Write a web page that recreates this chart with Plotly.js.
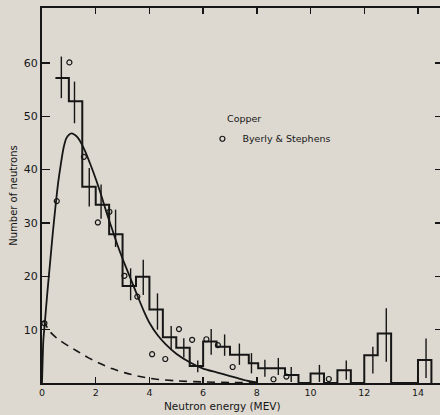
<!DOCTYPE html>
<html><head><meta charset="utf-8">
<script src="https://cdn.plot.ly/plotly-3.0.1.min.js"></script>
<style>html,body{margin:0;padding:0;background:#ddd9d0;}</style>
</head><body><div id="chart" style="width:440px;height:415px;"></div>
<script>
// Histogram (step outline): bin edges in MeV and counts per bin
const binEdges  = [0.5, 1.0, 1.5, 2.0, 2.5, 3.0, 3.5, 4.0, 4.5, 5.0, 5.5, 6.0, 6.5, 7.0, 7.7, 8.05, 9.05, 9.55, 10.0, 10.5, 11.0, 11.5, 12.0, 12.5, 13.0, 14.0, 14.5];
const binCounts = [57.2, 52.8, 36.8, 33.4, 27.9, 18.2, 19.9, 13.8, 8.6, 6.6, 3.2, 7.8, 6.8, 5.3, 3.7, 2.75, 1.5, 0, 1.8, 0, 2.4, 0, 5.2, 9.3, 0, 4.3];
// Error bars on the histogram
const errEnergy = [0.72, 1.21, 1.76, 2.2, 2.74, 3.3, 3.77, 4.3, 4.81, 5.28, 5.8, 6.3, 6.8, 7.35, 7.8, 8.3, 8.8, 9.28, 10.33, 11.33, 12.32, 12.82, 14.3];
const errCenter = [57.3, 52.6, 36.7, 34.0, 29.0, 18.5, 19.8, 13.4, 8.5, 6.6, 3.1, 7.7, 7.1, 5.4, 3.7, 2.75, 3.1, 1.6, 1.8, 2.4, 4.3, 9.0, 4.65];
const errHalf   = [3.9, 3.9, 3.6, 3.2, 3.5, 3.0, 3.3, 3.4, 2.2, 1.8, 1.1, 2.4, 2.0, 2.0, 1.9, 1.6, 1.6, 1.4, 1.6, 1.8, 2.5, 5.0, 3.7];
// Byerly & Stephens (open circles)
const byerlyEnergy = [0.09, 0.55, 1.02, 1.56, 2.08, 2.51, 3.07, 3.55, 4.1, 4.59, 5.1, 5.59, 6.12, 6.55, 7.1, 8.62, 9.1, 10.68];
const byerlyCounts = [11.2, 34.1, 60.1, 42.4, 30.1, 32.1, 20.1, 16.2, 5.4, 4.5, 10.1, 8.1, 8.2, 7.1, 3.0, 0.7, 1.2, 0.75];
// Solid curve
const fitEnergy = [0, 0.05, 0.1, 0.2, 0.3, 0.4, 0.5, 0.6, 0.7, 0.8, 0.9, 1.0, 1.1, 1.2, 1.3, 1.4, 1.6, 1.8, 2.0, 2.2, 2.4, 2.6, 2.8, 3.0, 3.2, 3.4, 3.6, 3.8, 4.0, 4.3, 4.6, 5.0, 5.5, 6.0, 6.5, 7.0, 7.5, 8.0];
const fitCounts = [0, 8, 11, 17, 22.5, 28, 33, 37.5, 41, 44, 45.8, 46.5, 46.8, 46.6, 46.2, 45.5, 43.5, 41, 38.3, 35.3, 32, 29, 26, 23.3, 20.8, 18.3, 15.8, 13.4, 11.3, 9.0, 7.3, 5.5, 3.9, 2.7, 2.0, 1.3, 0.6, 0.1];
// Dashed curve
const dashEnergy = [0.05, 0.3, 0.6, 1.0, 1.3, 1.7, 2.1, 2.6, 3.1, 3.6, 4.2, 5.0, 6.0, 7.0, 8.0];
const dashCounts = [11.7, 9.6, 8.2, 6.9, 6.0, 4.8, 3.8, 2.7, 1.9, 1.25, 0.75, 0.4, 0.2, 0.1, 0.05];
// Axis ticks
const xTicks = [0, 2, 4, 6, 8, 10, 12, 14];
const yTicks = [10, 20, 30, 40, 50, 60];

const INK = '#161616';
const BG = '#ddd9d0';
const FONT = 'DejaVu Sans, sans-serif';

// build step outline from edges/counts
const stepX = binEdges.slice();
const stepY = binCounts.concat([binCounts[binCounts.length - 1]]);
stepX.push(binEdges[binEdges.length - 1]);
stepY.push(0);

const traces = [
  {x: stepX, y: stepY, mode: 'lines', line: {shape: 'hv', color: INK, width: 2}, showlegend: false, hoverinfo: 'skip'},
  {x: errEnergy, y: errCenter, mode: 'markers', marker: {size: 1, color: 'rgba(0,0,0,0)'},
   error_y: {type: 'data', array: errHalf, visible: true, width: 0, thickness: 1.4, color: INK}, showlegend: false, hoverinfo: 'skip'},
  {x: fitEnergy, y: fitCounts, mode: 'lines', line: {shape: 'spline', smoothing: 0.6, color: INK, width: 1.8}, showlegend: false, hoverinfo: 'skip'},
  {x: dashEnergy, y: dashCounts, yaxis: 'y2', mode: 'lines', line: {shape: 'spline', smoothing: 0.6, color: INK, width: 1.6, dash: '8px,6px'}, showlegend: false, hoverinfo: 'skip'},
  {x: byerlyEnergy, y: byerlyCounts, mode: 'markers', name: 'Byerly & Stephens',
   marker: {symbol: 'circle-open', size: 5, color: INK, line: {width: 1.2, color: INK}}, showlegend: true}
];

const layout = {
  width: 440, height: 415,
  paper_bgcolor: BG, plot_bgcolor: BG,
  margin: {l: 42, r: 0, t: 8, b: 32},
  font: {family: FONT, color: INK},
  xaxis: {range: [0, 14.82], tickvals: xTicks, ticktext: xTicks.map(String),
    showline: true, linewidth: 2, linecolor: INK, mirror: 'ticks',
    ticks: 'inside', ticklen: 6, tickwidth: 1.5, tickcolor: INK,
    showgrid: false, zeroline: false, tickfont: {family: FONT, size: 9.5, color: INK}},
  yaxis: {range: [0, 70.3], tickvals: yTicks, ticktext: yTicks.map(String),
    showline: true, linewidth: 2, linecolor: INK,
    ticks: 'inside', ticklen: 8, tickwidth: 1.5, tickcolor: INK,
    showgrid: false, zeroline: false, tickfont: {family: FONT, size: 11, color: INK},
    title: {text: 'Number of neutrons', font: {family: FONT, size: 10, color: INK}, standoff: 4}},
  yaxis2: {range: [0, 70.3], overlaying: 'y', side: 'right', tickvals: yTicks,
    showticklabels: false, showline: false, showgrid: false, zeroline: false,
    ticks: 'inside', ticklen: 5, tickwidth: 1.2, tickcolor: INK},
  showlegend: true,
  legend: {x: 0.403, xanchor: 'left', y: 0.69, yanchor: 'top', bgcolor: 'rgba(0,0,0,0)',
    font: {family: FONT, size: 9.5, color: INK}, itemwidth: 30},
  annotations: [
    {x: 6.72, y: -0.062, xref: 'x', yref: 'paper', text: 'Neutron energy (MEV)', showarrow: false,
     xanchor: 'center', yanchor: 'middle', font: {family: FONT, size: 10.5, color: INK}},
    {x: 6.8, y: 49.5, xref: 'x', yref: 'y', text: 'Copper', showarrow: false,
     xanchor: 'left', yanchor: 'middle', font: {family: FONT, size: 9.5, color: INK}}
  ]
};

Plotly.newPlot('chart', traces, layout, {staticPlot: true, displayModeBar: false});
</script></body></html>
